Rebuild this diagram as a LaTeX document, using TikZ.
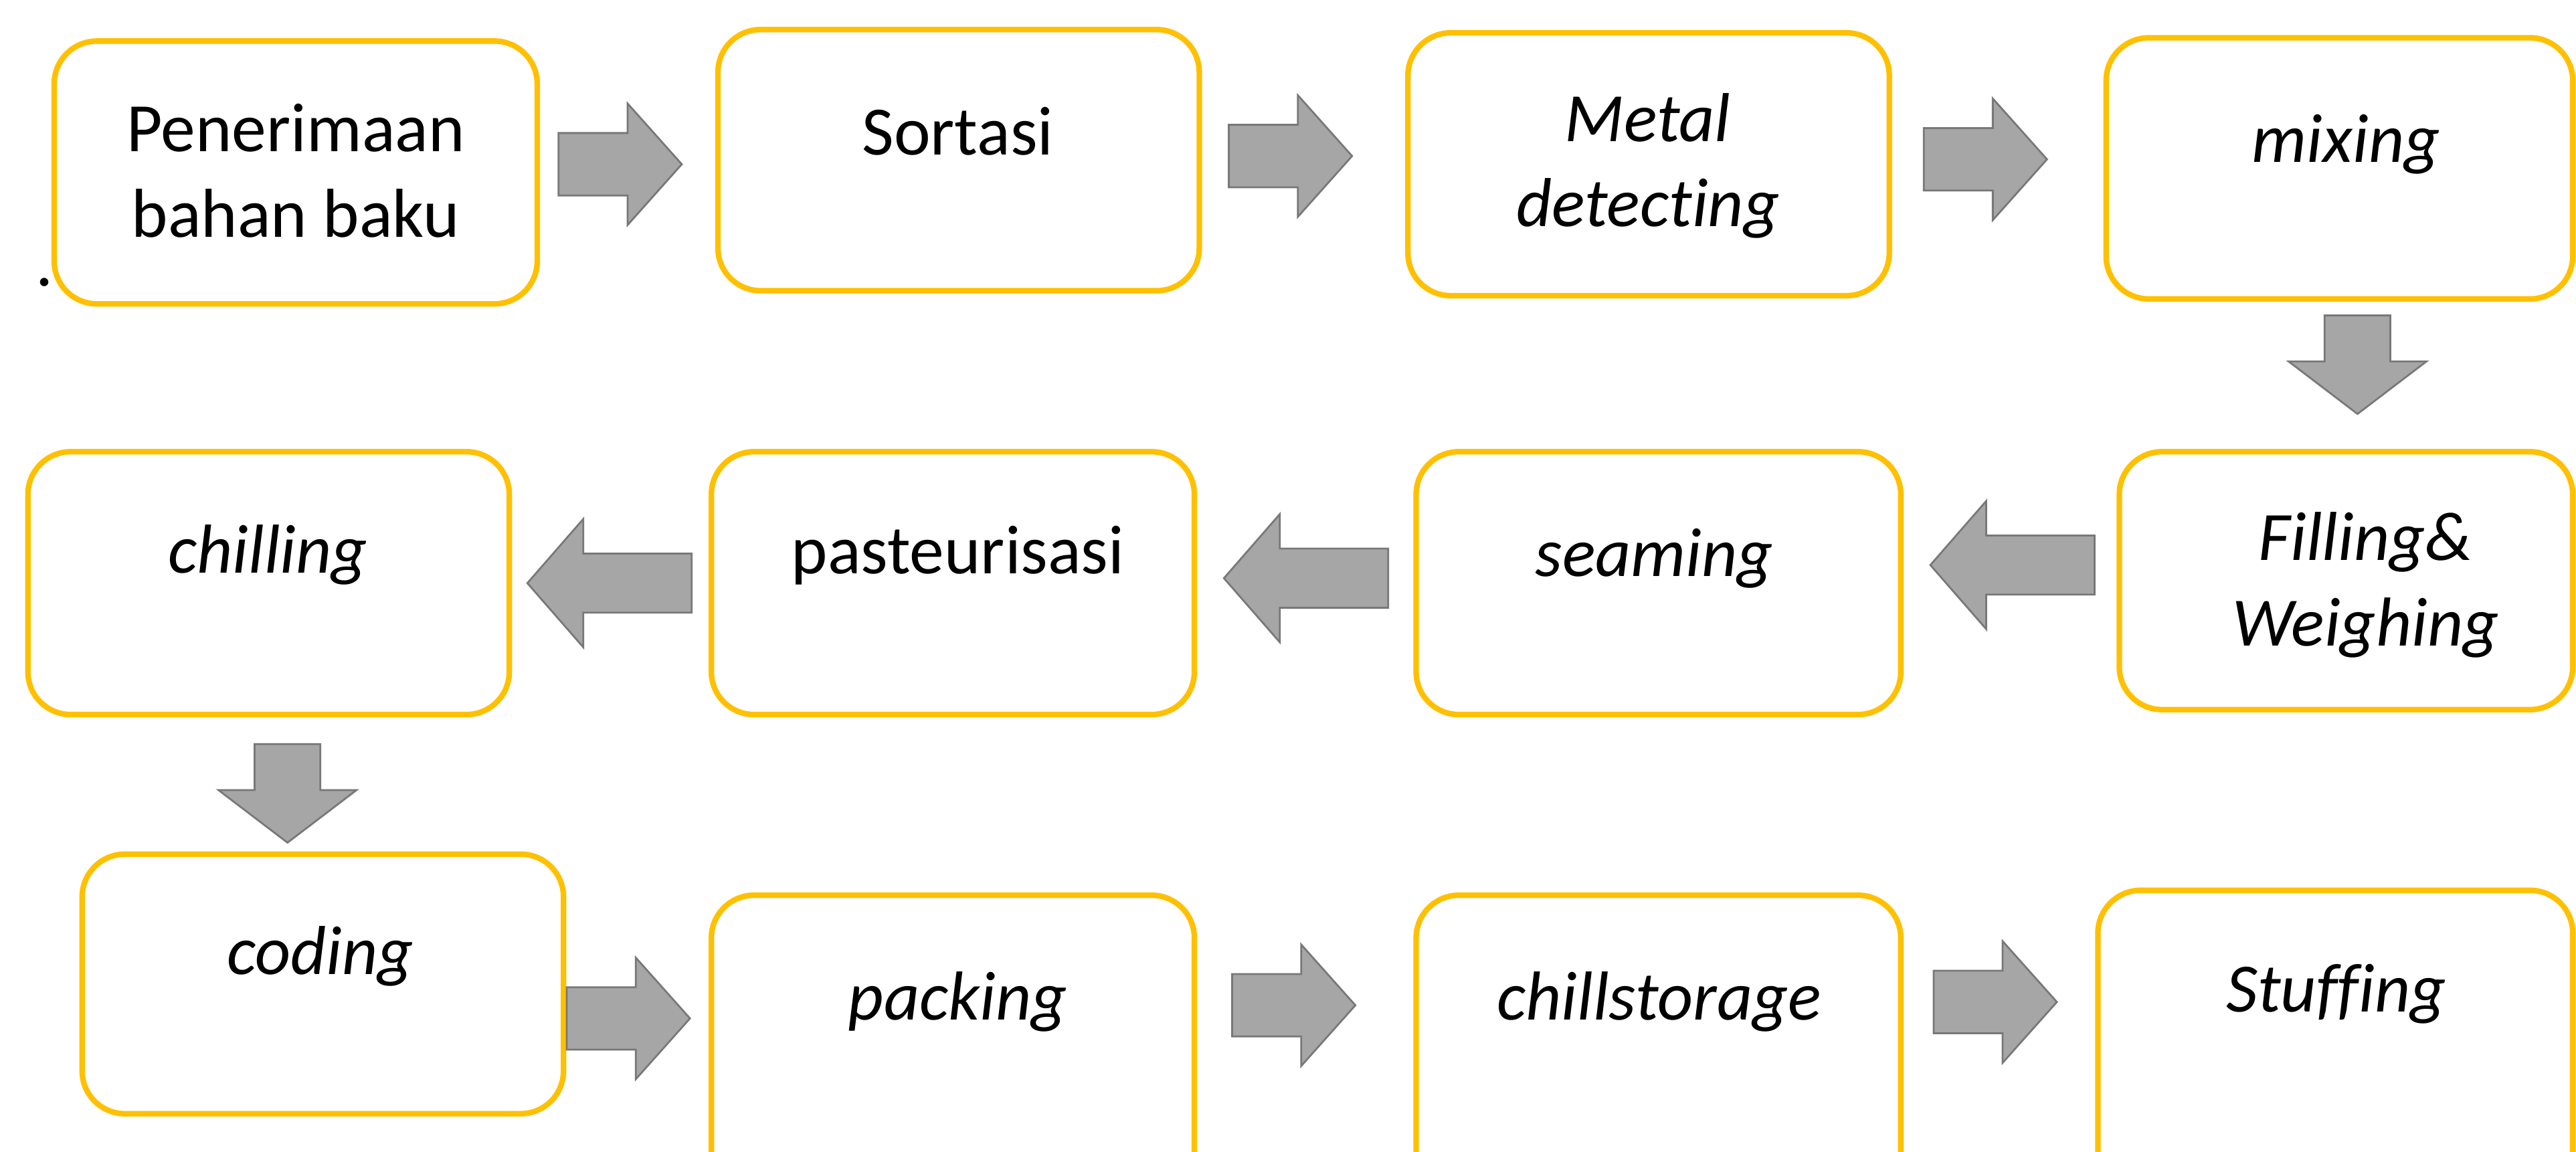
\documentclass[tikz,border=0pt]{standalone}
\usepackage{fontspec}
\setmainfont{Carlito}[Ligatures={NoCommon}]
\usetikzlibrary{fit}
\definecolor{boxline}{RGB}{255,192,0}
\definecolor{arrfill}{RGB}{166,166,166}
\definecolor{arredge}{RGB}{120,120,120}
\tikzset{
  procbox/.style={draw=boxline, line width=2.4pt, rounded corners=0.65cm, inner sep=0pt, fill=white},
  lbl/.style={font=\fontsize{30}{37}\selectfont, align=center, inner sep=0pt, text=black},
  itlbl/.style={font=\fontsize{30}{37}\selectfont\itshape, align=center, inner sep=0pt, text=black},
  blk/.style={fill=arrfill, draw=arredge, line width=0.8pt, line join=miter},
}
\newcommand{\rightblk}[2]{\draw[blk, shift={(#1,#2)}] (-37.5,-19) -- (4.5,-19) -- (4.5,-37) -- (37.5,0) -- (4.5,37) -- (4.5,19) -- (-37.5,19) -- cycle;}
\newcommand{\leftblk}[2]{\draw[blk, shift={(#1,#2)}] (50,-18) -- (-16,-18) -- (-16,-39) -- (-50,0) -- (-16,39) -- (-16,18) -- (50,18) -- cycle;}
\newcommand{\downblk}[2]{\draw[blk, shift={(#1,#2)}] (-20,-30) -- (20,-30) -- (20,-2) -- (42,-2) -- (0,30) -- (-42,-2) -- (-20,-2) -- cycle;}
\begin{document}
\begin{tikzpicture}[x=0.025cm, y=-0.025cm]
\useasboundingbox (0,0) rectangle (1568,701);
\clip (0,0) rectangle (1568,701);
\fill[white] (0,0) rectangle (1568,701);
% row 1
\node[procbox, fit={(33,25) (327,185)}] (b1) {};
\node[procbox, fit={(437,18) (730,177)}] (b2) {};
\node[procbox, fit={(857,20) (1150,180)}] (b3) {};
\node[procbox, fit={(1282,23) (1566,182)}] (b4) {};
% row 2
\node[procbox, fit={(1290,275) (1566,432)}] (b5) {};
\node[procbox, fit={(862,275) (1157,435)}] (b6) {};
\node[procbox, fit={(433,275) (727,435)}] (b7) {};
\node[procbox, fit={(17,275) (310,435)}] (b8) {};
% row 3
\node[procbox, fit={(50,520) (343,678)}] (b9) {};
\node[procbox, fit={(433,545) (727,730)}] (b10) {};
\node[procbox, fit={(862,545) (1157,730)}] (b11) {};
\node[procbox, fit={(1277,542) (1566,730)}] (b12) {};
% labels
\node[lbl] (t1) at (180,104) {Penerimaan\\bahan baku};
\node[lbl] (t2) at (583,80) {Sortasi};
\node[itlbl] (t3) at (1003,101) {Metal\\detecting};
\node[itlbl] (t4) at (1428,88) {mixing};
\node[itlbl] (t5) at (1440,356) {Filling\&\\Weighing};
\node[itlbl] (t6) at (1007,340) {seaming};
\node[lbl] (t7) at (583,338) {pasteurisasi};
\node[itlbl] (t8) at (163,338) {chilling};
\node[itlbl] (t9) at (195,582) {coding};
\node[itlbl] (t10) at (583,610) {packing};
\node[itlbl] (t11) at (1010,610) {chillstorage};
\node[itlbl] (t12) at (1422,605) {Stuffing};
\node[lbl] (dot) at (27,172) {.};
% block arrows
\rightblk{377.5}{100}
\rightblk{785.5}{95}
\rightblk{1208.5}{97}
\downblk{1435}{222}
\leftblk{1225}{344}
\leftblk{795}{352}
\leftblk{371}{355}
\downblk{175}{483}
\rightblk{382.5}{620}
\rightblk{787.5}{612}
\rightblk{1214.5}{610}
\end{tikzpicture}
\end{document}
